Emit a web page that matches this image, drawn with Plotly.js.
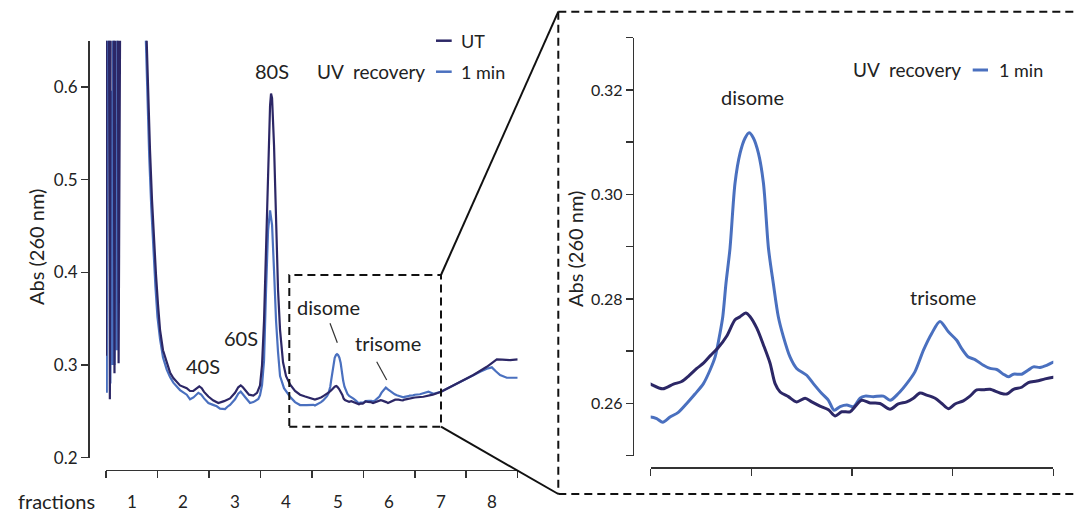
<!DOCTYPE html>
<html>
<head>
<meta charset="utf-8">
<script src="https://cdn.plot.ly/plotly-3.0.1.min.js"></script>
<style>html,body{margin:0;padding:0;background:#fff;}#chart{width:1075px;height:514px;}</style>
</head>
<body>
<div id="chart"></div>
<script>
// ---------- data (fraction position, absorbance at 260 nm) ----------
const fractionsUT = [0,0.01,0.05,0.075,0.10,0.14,0.165,0.19,0.225,0.245,0.265,0.30,0.50,0.70,0.785,0.816,0.855,0.894,0.933,0.972,1.011,1.050,1.108,1.180,1.244,1.308,1.438,1.569,1.633,1.697,1.755,1.813,1.860,1.905,1.989,2.080,2.183,2.294,2.410,2.507,2.570,2.618,2.660,2.702,2.779,2.863,2.935,2.993,3.032,3.071,3.110,3.149,3.188,3.207,3.227,3.265,3.304,3.343,3.382,3.440,3.499,3.576,3.673,3.771,3.870,3.940,
  4.000,4.060,4.113,4.154,4.187,4.229,4.262,4.295,4.336,4.378,4.419,4.444,4.472,4.494,4.527,4.560,4.593,4.618,4.643,4.684,4.725,4.767,4.800,4.841,4.883,4.916,4.949,4.990,5.015,5.048,5.090,5.139,5.189,5.230,5.272,5.305,5.338,5.371,5.413,5.446,5.479,5.512,5.553,5.586,5.620,5.653,5.686,5.735,5.769,5.802,5.843,5.876,5.918,5.959,6.000,
  6.167,6.350,6.511,6.816,7.139,7.400,7.594,7.700,7.852,8.000];
const absUT = [0.310,0.90,0.90,0.263,0.90,0.90,0.291,0.90,0.90,0.302,0.90,1.0,1.0,1.0,0.660,0.596,0.532,0.478,0.435,0.397,0.365,0.338,0.316,0.302,0.292,0.286,0.278,0.275,0.272,0.272,0.275,0.277,0.275,0.271,0.266,0.262,0.259,0.261,0.264,0.270,0.276,0.278,0.276,0.273,0.268,0.267,0.270,0.278,0.300,0.348,0.435,0.521,0.580,0.593,0.588,0.537,0.461,0.381,0.338,0.303,0.288,0.279,0.272,0.268,0.266,0.265,
  0.2637,0.2628,0.2637,0.2642,0.2652,0.2667,0.2677,0.2691,0.2707,0.2729,0.2760,0.2766,0.2773,0.2766,0.2744,0.2712,0.2677,0.2638,0.2622,0.2613,0.2603,0.2610,0.2603,0.2595,0.2588,0.2576,0.2584,0.2584,0.2594,0.2606,0.2601,0.2600,0.2589,0.2599,0.2603,0.2610,0.2620,0.2616,0.2610,0.2600,0.2590,0.2599,0.2605,0.2614,0.2626,0.2626,0.2627,0.2620,0.2618,0.2627,0.2631,0.2640,0.2643,0.2647,0.2650,
  0.2658,0.2680,0.2712,0.2802,0.2892,0.2981,0.3061,0.3058,0.3053,0.3061];

const fractions1min = [0,0.015,0.03,0.055,0.085,0.115,0.13,0.145,0.165,0.195,0.21,0.225,0.26,0.30,0.50,0.70,0.775,0.80,0.84,0.88,0.92,0.96,1.00,1.05,1.108,1.18,1.244,1.308,1.438,1.569,1.633,1.70,1.794,1.850,1.905,1.989,2.080,2.152,2.216,2.313,2.360,2.410,2.507,2.570,2.618,2.660,2.702,2.799,2.863,2.960,2.993,3.032,3.071,3.110,3.149,3.188,3.227,3.265,3.304,3.343,3.382,3.459,3.576,3.673,3.771,3.900,
  4.000,4.030,4.060,4.096,4.137,4.179,4.220,4.262,4.295,4.320,4.344,4.358,4.374,4.394,4.419,4.444,4.469,4.489,4.510,4.535,4.560,4.585,4.609,4.634,4.659,4.692,4.725,4.775,4.808,4.850,4.883,4.911,4.941,4.974,5.007,5.040,5.065,5.106,5.156,5.189,5.230,5.272,5.313,5.355,5.396,5.437,5.479,5.520,5.545,5.578,5.611,5.653,5.686,5.719,5.752,5.777,5.802,5.843,5.876,5.901,5.934,5.967,6.000,
  6.100,6.266,6.362,6.511,6.816,7.139,7.270,7.400,7.497,7.580,7.658,7.788,8.000];
const abs1min = [0.305,0.270,0.90,0.90,0.280,0.596,0.300,0.90,0.300,0.496,0.316,0.90,0.90,1.0,1.0,1.0,0.650,0.590,0.525,0.470,0.425,0.385,0.352,0.328,0.308,0.295,0.287,0.281,0.273,0.268,0.263,0.265,0.270,0.268,0.264,0.259,0.257,0.2555,0.253,0.2525,0.255,0.257,0.263,0.269,0.2714,0.269,0.2655,0.259,0.260,0.2633,0.2676,0.2784,0.305,0.381,0.445,0.467,0.451,0.402,0.348,0.314,0.288,0.275,0.2658,0.260,0.2568,0.2568,
  0.2574,0.2571,0.2564,0.2574,0.2583,0.2600,0.2618,0.2638,0.2664,0.2689,0.2734,0.2766,0.2830,0.2897,0.3022,0.3079,0.3108,0.3118,0.3108,0.3079,0.3022,0.2897,0.2830,0.2766,0.2728,0.2689,0.2667,0.2654,0.2638,0.2619,0.2606,0.2587,0.2594,0.2597,0.2594,0.2610,0.2614,0.2613,0.2614,0.2606,0.2619,0.2638,0.2661,0.2702,0.2734,0.2757,0.2737,0.2721,0.2705,0.2689,0.2684,0.2673,0.2667,0.2665,0.2656,0.2651,0.2656,0.2656,0.2664,0.2670,0.2669,0.2673,0.2679,
  0.2685,0.2712,0.2690,0.2712,0.2802,0.2892,0.2928,0.2960,0.2975,0.2930,0.2892,0.2863,0.2863];

const fractionTickVals = [0,1,2,3,4,5,6,7,8];
const fractionLabelVals = [0.5,1.5,2.5,3.5,4.5,5.5,6.5,7.5];
const fractionLabels = ['1','2','3','4','5','6','7','8'];
const leftYTicks = [0.2,0.3,0.4,0.5,0.6];
const leftYLabels = ['0.2','0.3','0.4','0.5','0.6'];
const rightYTicks = [0.25,0.26,0.27,0.28,0.29,0.30,0.31,0.32,0.33];
const rightYLabels = ['','0.26','','0.28','','0.30','','0.32',''];
const zoomXTicks = [4,4.5,5,5.5,6];

// ---------- styling ----------
const W = 1075, H = 514;
const X = p => p / W;
const Y = p => 1 - p / H;
const FONT = 'Lato, "Open Sans", sans-serif';
const C_UT = '#2c2766';
const C_1M = '#4a70bf';
const AX = '#333333';
const TXT = '#222222';

const traces = [
  {x: fractions1min, y: abs1min, xaxis: 'x', yaxis: 'y', mode: 'lines', line: {color: C_1M, width: 2.2}, name: '1 min'},
  {x: fractionsUT, y: absUT, xaxis: 'x', yaxis: 'y', mode: 'lines', line: {color: C_UT, width: 2.2}, name: 'UT'},
  {x: fractions1min, y: abs1min, xaxis: 'x2', yaxis: 'y2', mode: 'lines', line: {color: C_1M, width: 3, shape: 'spline', smoothing: 0.8}, name: '1 min'},
  {x: fractionsUT, y: absUT, xaxis: 'x2', yaxis: 'y2', mode: 'lines', line: {color: C_UT, width: 3, shape: 'spline', smoothing: 0.8}, name: 'UT'}
];

const axBase = {showgrid: false, zeroline: false, showline: true, linecolor: AX, linewidth: 1.5,
  ticks: 'outside', ticklen: 7, tickwidth: 1.5, tickcolor: AX, fixedrange: true};

function ann(text, x, y, size, xanchor, extra) {
  return Object.assign({text: text, x: X(x), y: Y(y), xref: 'paper', yref: 'paper', showarrow: false,
    xanchor: xanchor || 'center', yanchor: 'middle', font: {family: FONT, size: size, color: TXT}}, extra || {});
}
function seg(x0, y0, x1, y1, color, width, dash) {
  return {type: 'line', xref: 'paper', yref: 'paper', x0: X(x0), y0: Y(y0), x1: X(x1), y1: Y(y1),
    line: {color: color, width: width, dash: dash || 'solid'}};
}

const fractionAnns = fractionLabelVals.map((v, i) => ({
  text: fractionLabels[i], x: v, xref: 'x', y: Y(501.5), yref: 'paper', showarrow: false,
  xanchor: 'center', yanchor: 'middle', font: {family: FONT, size: 17, color: TXT}
}));

const layout = {
  width: W, height: H,
  margin: {l: 0, r: 0, t: 0, b: 0},
  paper_bgcolor: '#ffffff', plot_bgcolor: 'rgba(0,0,0,0)',
  showlegend: false,
  font: {family: FONT, color: TXT},
  xaxis: Object.assign({}, axBase, {domain: [X(106), X(517.7)], range: [0, 8], anchor: 'free', position: Y(469.5),
    tickmode: 'array', tickvals: fractionTickVals, showticklabels: false}),
  yaxis: Object.assign({}, axBase, {domain: [Y(457.7), Y(40.7)], range: [0.2, 0.65], anchor: 'free', position: X(88),
    tickmode: 'array', tickvals: leftYTicks, ticktext: leftYLabels, tickfont: {family: FONT, size: 17, color: TXT}}),
  xaxis2: Object.assign({}, axBase, {domain: [X(650.7), X(1053.3)], range: [4, 6], anchor: 'free', position: Y(467.3),
    tickmode: 'array', tickvals: zoomXTicks, showticklabels: false}),
  yaxis2: Object.assign({}, axBase, {domain: [Y(455.7), Y(37.7)], range: [0.25, 0.33], anchor: 'free', position: X(632.7),
    tickmode: 'array', tickvals: rightYTicks, ticktext: rightYLabels, tickfont: {family: FONT, size: 16, color: TXT}}),
  annotations: fractionAnns.concat([
    ann('Abs (260 nm)', 36, 247, 20, 'center', {textangle: -90}),
    ann('Abs (260 nm)', 575, 249, 20, 'center', {textangle: -90}),
    ann('fractions', 56, 501, 20),
    ann('80S', 272, 71, 20),
    ann('60S', 240.7, 338, 20),
    ann('40S', 202.5, 365.7, 20),
    ann('disome', 328, 306.7, 20),
    ann('trisome', 387.7, 343.3, 20),
    ann('disome', 752.3, 97.3, 20),
    ann('trisome', 943.3, 296.7, 20),
    ann('UT', 459, 40.7, 18, 'left'),
    ann('1 min', 459, 71.7, 18, 'left'),
    ann('UV  recovery', 426.7, 71.7, 19, 'right'),
    ann('UV  recovery', 962.7, 70, 19, 'right'),
    ann('1 min', 996.7, 70, 18, 'left')
  ]),
  shapes: [
    // legend swatches
    seg(436, 40.7, 451.7, 40.7, C_UT, 2.5),
    seg(436, 71.7, 451.7, 71.7, C_1M, 2.5),
    seg(972.7, 70, 988, 70, C_1M, 3),
    // label leader lines
    seg(330, 323.3, 337.3, 342.7, AX, 1.2),
    seg(376.7, 361.7, 386.7, 380, AX, 1.2),
    // zoom box on left plot
    {type: 'rect', xref: 'paper', yref: 'paper', x0: X(289.3), y0: Y(426.7), x1: X(441), y1: Y(275),
      line: {color: '#111', width: 2, dash: '8px,5px'}},
    // zoom frame around right plot
    seg(558.3, 11.7, 1080, 11.7, '#111', 2, '8px,5px'),
    seg(558.3, 11.7, 558.3, 494, '#111', 2, '8px,5px'),
    seg(558.3, 494, 1080, 494, '#111', 2, '8px,5px'),
    // connectors
    seg(441, 275, 558.3, 11.7, '#111', 2),
    seg(441, 426.7, 558.3, 494, '#111', 2)
  ]
};

Plotly.newPlot('chart', traces, layout, {staticPlot: true, displayModeBar: false});
</script>
</body>
</html>
